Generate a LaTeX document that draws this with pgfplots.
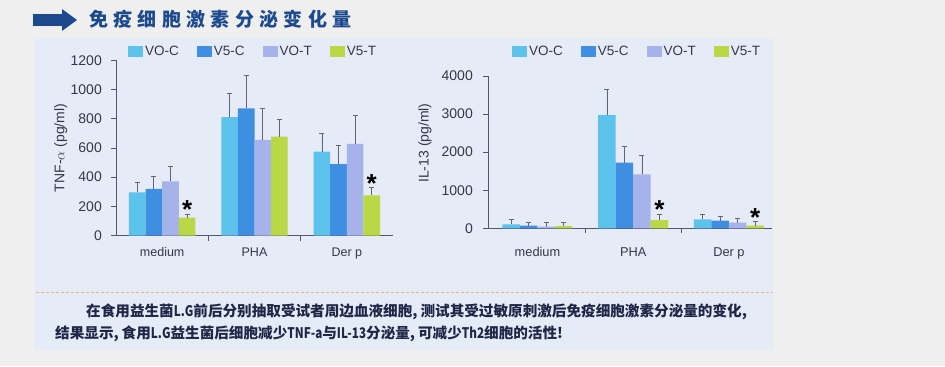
\documentclass[border=0pt]{standalone}
\usepackage{pgfplots}
\pgfplotsset{compat=1.18}
\usepackage{fontspec}
\setmainfont{Liberation Sans}
\newfontfamily\cjk{Noto Sans CJK SC}
\newcommand{\lat}[1]{\scalebox{0.8}[1]{#1}}
\definecolor{voc}{HTML}{5EC3EC}
\definecolor{vfc}{HTML}{3E8EE2}
\definecolor{vot}{HTML}{A6B2EA}
\definecolor{vft}{HTML}{B9D845}
\definecolor{errc}{HTML}{62647A}
\definecolor{axisc}{HTML}{55566C}
\definecolor{tickc}{HTML}{36374A}
\definecolor{panel}{HTML}{E5EBF7}
\definecolor{bg}{HTML}{EFEFEF}
\definecolor{titleblue}{HTML}{1D4A8E}
\definecolor{captc}{HTML}{1F2747}
\definecolor{dashc}{HTML}{F0B07C}

\pgfplotstableread{
x y e
0 295 70
1 811 165
2 575 126
}\leftVOC
\pgfplotstableread{
x y e
0 320 82
1 872 229
2 490 131
}\leftVFC
\pgfplotstableread{
x y e
0 372 103
1 655 217
2 628 194
}\leftVOT
\pgfplotstableread{
x y e
0 122 23
1 678 119
2 276 54
}\leftVFT

\pgfplotstableread{
x y e
0 105 131
1 2975 675
2 236 131
}\rightVOC
\pgfplotstableread{
x y e
0 70 87
1 1723 438
2 200 123
}\rightVFC
\pgfplotstableread{
x y e
0 45 103
1 1418 507
2 148 114
}\rightVOT
\pgfplotstableread{
x y e
0 60 88
1 218 157
2 70 104
}\rightVFT

\tikzset{astnode/.style={font=\fontsize{26bp}{26bp}\selectfont\bfseries, text=black, yshift=-5bp, inner sep=0pt}}

\pgfplotsset{
  mybars/.style={
    scale only axis,
    ybar=0pt,
    axis lines*=left,
    axis line style={draw=axisc, line width=0.9bp},
    ymin=0,
    xtick={0.5,1.5}, xticklabels={,},
    extra x ticks={0,1,2},
    extra x tick labels={medium,PHA,Der p},
    extra x tick style={major tick length=0pt},
    tick align=outside,
    major tick length=5bp,
    tick style={draw=axisc, line width=0.9bp},
    every tick label/.append style={text=tickc},
    /pgf/number format/assume math mode=true,
    /pgf/number format/1000 sep={},
    ylabel style={font=\fontsize{14bp}{16bp}\selectfont, text=tickc},
    legend columns=4,
    legend style={draw=none, fill=none, inner sep=0pt,
      font=\fontsize{13.5bp}{15bp}\selectfont, text=tickc,
      /tikz/every even column/.append style={column sep=16bp}},
    legend image code/.code={\fill[##1] (0bp,-5.5bp) rectangle (15bp,5.5bp);},
    error bars/y dir=plus,
    error bars/y explicit,
    error bars/error bar style={line width=0.8bp, draw=errc},
    error bars/error mark options={rotate=90, mark size=2.5bp, line width=0.8bp, draw=errc},
  },
}

\begin{document}
\begin{tikzpicture}[x=1bp,y=1bp]
\fill[bg] (0,0) rectangle (945,366);
\fill[panel] (35,16) rectangle (773,328);
\draw[dashc, dashed, line width=1bp, dash pattern=on 3bp off 2bp] (36,74) -- (773,74);
% title arrow
\fill[titleblue] (33,340) rectangle (63,352);
\fill[titleblue] (62,357) -- (77,346) -- (62,335) -- cycle;
\node[anchor=west, inner sep=0pt, text=titleblue] at (89,347)
  {\cjk\bfseries\fontsize{19bp}{20bp}\selectfont\addfontfeature{LetterSpace=28}免疫细胞激素分泌变化量};
% caption
\node[anchor=base west, inner sep=0pt, text=captc] at (86,49.5)
  {\cjk\bfseries\fontsize{14.6bp}{16bp}\selectfont 在食用益生菌\lat{L.G}前后分别抽取受试者周边血液细胞,\hspace{3bp}测试其受过敏原刺激后免疫细胞激素分泌量的变化,};
\node[anchor=base west, inner sep=0pt, text=captc] at (55,27.5)
  {\cjk\bfseries\fontsize{14.6bp}{16bp}\selectfont 结果显示,\hspace{3bp}食用\lat{L.G}益生菌后细胞减少\lat{TNF-a}与\lat{IL-13}分泌量,\hspace{3bp}可减少\lat{Th2}细胞的活性!};

% left chart
\begin{axis}[mybars,
  at={(116bp,130.5bp)}, anchor=south west,
  width=277bp, height=175bp,
  xmin=-0.5, xmax=2.5, ymax=1200,
  ytick={0,200,400,600,800,1000,1200},
  bar width=16.6bp,
  yticklabel style={font=\fontsize{14bp}{16bp}\selectfont, inner sep=0pt, anchor=east, xshift=-9bp},
  xticklabel style={font=\fontsize{12.5bp}{14bp}\selectfont, anchor=base, yshift=-20.5bp},
  ylabel={TNF-$\alpha$ (pg/ml)},
  ylabel style={at={(axis description cs:-0.199,0.5)}, anchor=center},
  legend style={at={(axis description cs:0.043,1.051)}, anchor=west},
]
\addplot[fill=voc, draw=none] table[x=x, y=y, y error=e] {\leftVOC};
\addplot[fill=vfc, draw=none] table[x=x, y=y, y error=e] {\leftVFC};
\addplot[fill=vot, draw=none] table[x=x, y=y, y error=e] {\leftVOT};
\addplot[fill=vft, draw=none] table[x=x, y=y, y error=e] {\leftVFT};
\legend{VO-C, V5-C, VO-T, V5-T}
\node[astnode] at (axis cs:0.27,209) {*};
\node[astnode] at (axis cs:2.27,392) {*};
\end{axis}

% right chart
\begin{axis}[mybars,
  at={(488bp,137.7bp)}, anchor=south west,
  width=284bp, height=152.3bp,
  xmin=-0.517, xmax=2.45, ymax=4000,
  ytick={0,1000,2000,3000,4000},
  bar width=17.5bp,
  yticklabel style={font=\fontsize{14bp}{16bp}\selectfont, inner sep=0pt, anchor=east, xshift=-10bp},
  xticklabel style={font=\fontsize{12.8bp}{14bp}\selectfont, anchor=base, yshift=-28bp},
  ylabel={IL-13 (pg/ml)},
  ylabel style={at={(axis description cs:-0.222,0.56)}, anchor=center},
  legend style={at={(axis description cs:0.0845,1.158)}, anchor=west},
]
\addplot[fill=voc, draw=none] table[x=x, y=y, y error=e] {\rightVOC};
\addplot[fill=vfc, draw=none] table[x=x, y=y, y error=e] {\rightVFC};
\addplot[fill=vot, draw=none] table[x=x, y=y, y error=e] {\rightVOT};
\addplot[fill=vft, draw=none] table[x=x, y=y, y error=e] {\rightVFT};
\legend{VO-C, V5-C, VO-T, V5-T}
\node[astnode] at (axis cs:1.274,612) {*};
\node[astnode] at (axis cs:2.274,410) {*};
\end{axis}
\end{tikzpicture}
\end{document}
